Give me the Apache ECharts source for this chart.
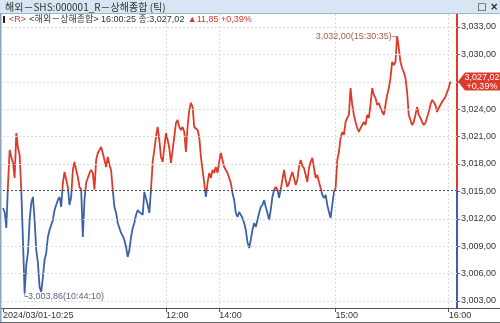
<!DOCTYPE html>
<html><head><meta charset="utf-8">
<script src="https://cdn.jsdelivr.net/npm/echarts@6/dist/echarts.min.js"></script>
<style>html,body{margin:0;padding:0;background:#fff;overflow:hidden}#c{width:500px;height:323px}</style>
</head><body><div id="c"></div>
<script>
const prices = [
3013.18,3012.74,3010.99,3015.70,3019.53,3018.77,3018.11,3016.47,3021.39,3019.75,
3018.99,3015.10,3009.68,3003.86,3006.94,3008.26,3011.87,3013.73,3014.39,3011.87,
3008.58,3007.16,3004.53,3003.99,3005.63,3007.49,3008.26,3010.01,3010.77,3010.77,
3011.87,3012.96,3013.51,3014.06,3014.39,3013.29,3015.92,3017.12,3017.02,3015.48,
3013.51,3014.39,3017.34,3018.22,3017.34,3016.58,3015.48,3015.20,3010.01,3014.06,
3015.92,3016.47,3017.02,3017.34,3017.02,3015.20,3018.44,3019.20,3019.53,3019.86,
3019.20,3018.44,3017.67,3018.77,3017.89,3017.34,3015.15,3013.29,3012.64,3011.54,
3010.99,3010.45,3010.12,3009.68,3008.91,3007.82,3008.58,3010.01,3010.99,3011.54,
3012.42,3012.96,3012.74,3012.64,3012.42,3014.93,3014.83,3013.51,3012.64,3015.20,
3018.22,3019.53,3020.96,3022.05,3020.63,3018.77,3018.22,3019.86,3021.39,3020.63,
3019.75,3018.11,3019.53,3020.96,3022.49,3022.82,3022.05,3021.72,3022.05,3021.50,
3019.31,3022.05,3023.91,3024.68,3024.24,3022.05,3022.05,3021.72,3020.96,3018.77,
3017.34,3015.92,3014.39,3015.92,3017.02,3016.47,3017.34,3017.02,3017.67,3017.02,
3018.22,3019.20,3018.44,3017.67,3017.34,3017.02,3016.47,3015.92,3014.83,3014.06,
3012.64,3012.20,3012.74,3012.42,3012.09,3011.54,3010.77,3009.46,3008.80,3009.68,
3010.77,3011.54,3011.10,3011.87,3012.64,3013.29,3013.51,3014.06,3013.29,3012.64,
3011.87,3012.96,3014.39,3015.15,3015.48,3015.20,3014.28,3015.20,3016.25,3017.34,
3016.25,3015.48,3015.92,3016.58,3017.12,3016.47,3015.70,3016.25,3017.67,3018.44,
3017.78,3017.56,3016.80,3016.03,3017.56,3018.22,3018.66,3017.56,3016.47,3016.80,
3016.03,3015.37,3014.61,3014.28,3014.61,3013.51,3012.74,3012.09,3013.51,3014.93,
3015.37,3018.44,3019.31,3020.85,3021.50,3021.18,3022.60,3023.04,3023.37,3026.32,
3024.46,3023.37,3022.60,3021.94,3021.50,3021.94,3022.27,3022.60,3022.27,3023.37,
3023.04,3024.46,3026.32,3025.55,3025.23,3024.46,3024.68,3024.13,3023.69,3023.37,
3024.46,3025.55,3026.32,3027.42,3029.17,3028.84,3029.17,3032.00,3030.70,3029.17,
3028.51,3028.07,3027.42,3025.88,3023.37,3022.82,3022.27,3022.60,3023.37,3024.24,
3023.37,3023.04,3022.60,3022.27,3022.49,3022.60,3023.69,3024.46,3025.01,3024.79,
3024.46,3023.69,3024.13,3024.46,3024.79,3024.79,3025.34,3025.55,3026.32,3027.02
];
const prevClose = 3015.17;
const totalSlots = 274;
const yTicks = [3003,3006,3009,3012,3015,3018,3021,3024,3027,3030,3033];
const xTickIndex = [0, 98, 130, 200, 268];
const xTickText = ['2024/03/01-10:25', '12:00', '14:00', '15:00', '16:00'];
const minTime = '10:44:10';
const maxTime = '15:30:35';
const lastTime = '16:00:25';
const titleText = '해외－SHS:000001_R－상해종합 (틱)';
const nameText = '<해외－상해종합>';

const yMin = 3002.23, yMax = 3034.42;
const RED = '#de3a2a', BLUE = '#3b62a6';
const NUM_FONT = 'Liberation Sans';
const H = 323;

function fmt(v) {
  const s = Math.abs(v).toFixed(2).split('.');
  const ip = s[0].replace(/\B(?=(\d{3})+(?!\d))/g, ',');
  return ip + ',' + s[1];
}
const last = prices[prices.length - 1];
const change = last - prevClose;
const pct = change / prevClose * 100;

const categories = Array.from({length: totalSlots}, (_, i) => String(i));
const lastCat = categories[totalSlots - 1];
const isTick = (i) => xTickIndex.indexOf(i) >= 0;

const chart = echarts.init(document.getElementById('c'), null, {renderer: 'canvas'});

const option = {
  animation: false,
  backgroundColor: '#fff',
  grid: {left: 2, right: 43, top: 14, bottom: 15, containLabel: false},
  xAxis: {
    type: 'category', data: categories, boundaryGap: false,
    axisLine: {show: true, lineStyle: {color: '#555', width: 1}},
    axisTick: {show: true, interval: (i) => isTick(i), length: 4, lineStyle: {color: '#555'}},
    axisLabel: {
      interval: (i) => isTick(i), align: 'left', margin: 3,
      fontSize: 9, fontFamily: NUM_FONT, color: '#333',
      formatter: (v) => { const k = xTickIndex.indexOf(Number(v)); return k >= 0 ? xTickText[k] : ''; }
    },
    splitLine: {show: true, interval: (i) => isTick(i) && i > 0, lineStyle: {color: '#d9d9d9', type: [2, 2]}}
  },
  yAxis: {
    type: 'value', position: 'right', min: yMin, max: yMax,
    axisLine: {show: false},
    axisTick: {show: true, customValues: yTicks, length: 3, lineStyle: {color: '#666'}},
    axisLabel: {customValues: yTicks, formatter: (v) => fmt(v), fontSize: 9, fontFamily: NUM_FONT, color: '#333', margin: 4, hideOverlap: false},
    splitLine: {show: false}
  },
  series: [
    {
      type: 'line', data: prices, showSymbol: false, symbol: 'none', z: 3, clip: false,
      lineStyle: {width: 1.8, color: RED},
      markPoint: {
        silent: true, animation: false,
        data: [
          {type: 'max', symbol: 'circle', symbolSize: 0,
           label: {show: true, position: [1, 0], align: 'right', verticalAlign: 'middle',
                   formatter: () => fmt(Math.max(...prices)) + '(' + maxTime + ')─',
                   color: '#a65a50', fontSize: 9, fontFamily: NUM_FONT}},
          {type: 'min', symbol: 'circle', symbolSize: 0,
           label: {show: true, position: [-3, -1], align: 'left', verticalAlign: 'top',
                   formatter: () => '└' + fmt(Math.min(...prices)) + '(' + minTime + ')',
                   color: '#56657d', fontSize: 9, fontFamily: NUM_FONT}},
          {coord: [lastCat, last], symbol: 'path://M0,9L7,0L42,0L42,18L7,18Z', symbolSize: [42, 18],
           symbolKeepAspect: false, symbolOffset: [22, 0], itemStyle: {color: RED},
           label: {show: true, position: 'inside', offset: [3, 0], color: '#fff', fontSize: 9, lineHeight: 9,
                   fontFamily: NUM_FONT,
                   formatter: () => fmt(last) + '\n' + (change >= 0 ? '+' : '-') + fmt(pct) + '%'}}
        ]
      },
      markLine: {
        silent: true, symbol: 'none', animation: false, label: {show: false},
        data: [
          {yAxis: prevClose, lineStyle: {color: '#444', type: [2, 2], width: 1}},
          [{coord: [lastCat, yMax], lineStyle: {color: RED, width: 2, type: 'solid'}}, {coord: [lastCat, prevClose]}],
          [{coord: [lastCat, prevClose], lineStyle: {color: BLUE, width: 2, type: 'solid'}}, {coord: [lastCat, yMin]}]
        ]
      }
    },
    {
      type: 'line', data: [], z: 1, silent: true,
      markLine: {
        silent: true, symbol: 'none', animation: false, label: {show: false},
        lineStyle: {color: '#dcdcdc', type: [2, 2], width: 1},
        data: yTicks.filter(v => Math.abs(v - prevClose) > 0.5).map(v => ({yAxis: v}))
      }
    }
  ],
  graphic: [
    {type: 'rect', shape: {x: 0, y: 0, width: 500, height: 13}, style: {fill: '#d8e6f3'}, z: 10},
    {type: 'line', shape: {x1: 0, y1: 13.5, x2: 500, y2: 13.5}, style: {stroke: '#9fb6cf', lineWidth: 1}, z: 10},
    {type: 'text', x: 5, y: 7, z: 11, style: {text: titleText, fill: '#333', font: '10px "Noto Sans CJK KR"', verticalAlign: 'middle'}},
    {type: 'text', x: 477, y: 7, z: 11, style: {text: '□ ×', fill: '#222', font: 'bold 10px "DejaVu Sans"', verticalAlign: 'middle'}},
    {type: 'rect', shape: {x: 3, y: 16, width: 2, height: 7}, style: {fill: '#222'}, z: 11},
    {type: 'text', x: 9, y: 20, z: 11, style: {
      text: '{r|<R>} {n|' + nameText + ' ' + lastTime + ' 종:' + fmt(last) + '} {u|▲' + fmt(change) + ' +' + fmt(pct) + '%}',
      verticalAlign: 'middle',
      rich: {
        r: {fill: '#b9473a', font: '9px "Liberation Sans", "Noto Sans CJK KR"'},
        n: {fill: '#333', font: '9px "Liberation Sans", "Noto Sans CJK KR"'},
        u: {fill: '#d23a2a', font: '9px "Liberation Sans", "Noto Sans CJK KR"'}
      }
    }},
    {type: 'line', shape: {x1: 0, y1: 308.5, x2: 500, y2: 308.5}, style: {stroke: '#555', lineWidth: 1}, z: 0},
    {type: 'line', shape: {x1: 0.75, y1: 13, x2: 0.75, y2: 323}, style: {stroke: '#8da2bd', lineWidth: 1.5}, z: 10},
    {type: 'line', shape: {x1: 0, y1: 322.5, x2: 500, y2: 322.5}, style: {stroke: '#666', lineWidth: 1}, z: 10}
  ]
};
chart.setOption(option);

// colour the price line red above / blue below the previous close, split at the axis position of prevClose
const yBase = chart.convertToPixel({yAxisIndex: 0}, prevClose);
const f = Math.min(1, Math.max(0, yBase / H));
chart.setOption({
  series: [{
    lineStyle: {
      color: new echarts.graphic.LinearGradient(0, 0, 0, H, [
        {offset: 0, color: RED}, {offset: f, color: RED},
        {offset: f, color: BLUE}, {offset: 1, color: BLUE}
      ], true)
    }
  }]
});
</script></body></html>
